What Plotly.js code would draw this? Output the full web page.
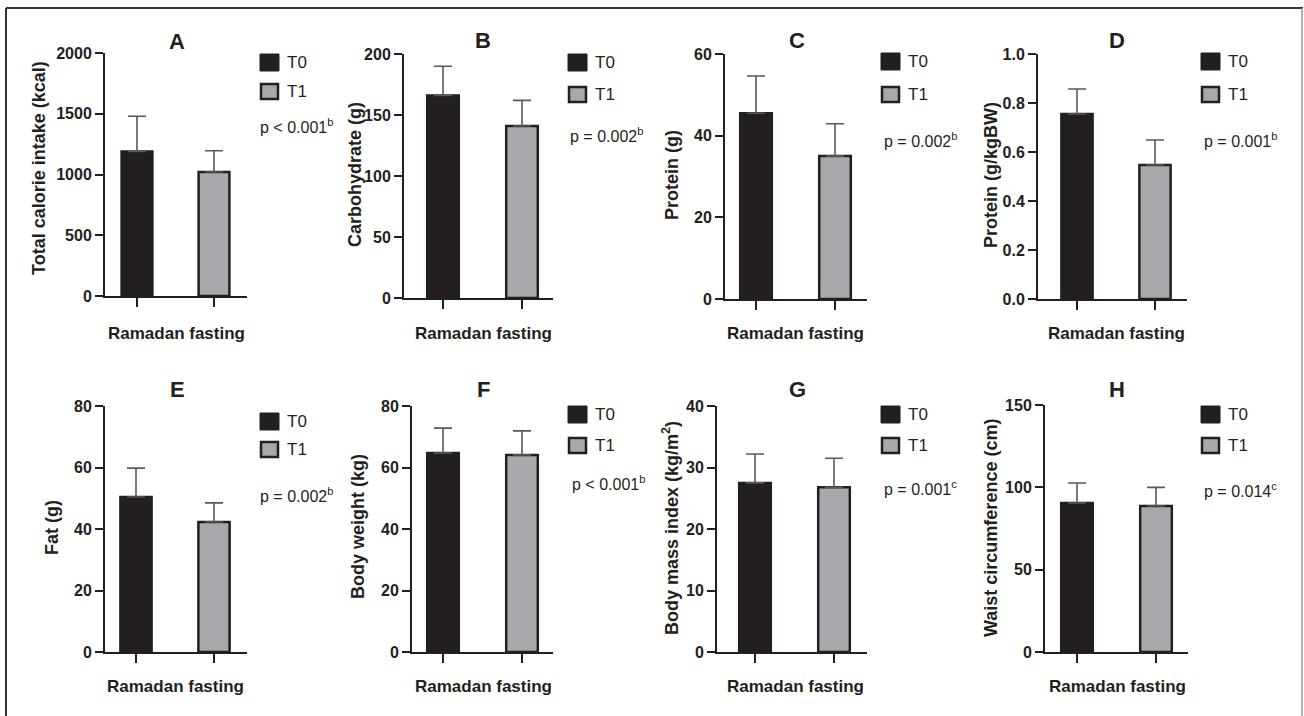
<!DOCTYPE html>
<html>
<head>
<meta charset="utf-8">
<script src="https://cdn.plot.ly/plotly-3.0.1.min.js"></script>
<style>html,body{margin:0;padding:0;background:#fff;}#chart{width:1304px;height:716px;}</style>
</head>
<body>
<div id="chart"></div>
<script>
// ---- data ----
const categories = ['T0', 'T1'];
const panelLetters = ['A', 'B', 'C', 'D', 'E', 'F', 'G', 'H'];
const yTitles = ['Total calorie intake (kcal)', 'Carbohydrate (g)', 'Protein (g)', 'Protein (g/kgBW)',
                 'Fat (g)', 'Body weight (kg)', 'Body mass index (kg/m<sup>2</sup>)', 'Waist circumference (cm)'];
const t0Means = [1190, 166, 45.5, 0.755, 50.4, 64.7, 27.5, 90.5];
const t0SD    = [290, 24, 9.1, 0.102, 9.4, 8.1, 4.7, 12.1];
const t1Means = [1020, 141, 35.0, 0.547, 42.3, 64.1, 26.8, 88.7];
const t1SD    = [175, 21, 7.9, 0.102, 6.2, 7.8, 4.7, 11.3];
const yTickVals = [
  [0, 500, 1000, 1500, 2000],
  [0, 50, 100, 150, 200],
  [0, 20, 40, 60],
  [0, 0.2, 0.4, 0.6, 0.8, 1.0],
  [0, 20, 40, 60, 80],
  [0, 20, 40, 60, 80],
  [0, 10, 20, 30, 40],
  [0, 50, 100, 150]
];
const yTickText = [
  ['0', '500', '1000', '1500', '2000'],
  ['0', '50', '100', '150', '200'],
  ['0', '20', '40', '60'],
  ['0.0', '0.2', '0.4', '0.6', '0.8', '1.0'],
  ['0', '20', '40', '60', '80'],
  ['0', '20', '40', '60', '80'],
  ['0', '10', '20', '30', '40'],
  ['0', '50', '100', '150']
];
const pTexts  = ['p < 0.001<sup>b</sup>', 'p = 0.002<sup>b</sup>', 'p = 0.002<sup>b</sup>', 'p = 0.001<sup>b</sup>',
                 'p = 0.002<sup>b</sup>', 'p < 0.001<sup>b</sup>', 'p = 0.001<sup>c</sup>', 'p = 0.014<sup>c</sup>'];
const xTitle = 'Ramadan fasting';

// ---- geometry (pixels) ----
const W = 1304, H = 716;
// [axisLeft, axisRight, tick0, tick1, top, bottom]
const geo = [
  [105, 247, 137, 214, 53, 296],
  [404, 553, 443, 522, 54, 298],
  [725, 867, 756, 835, 54, 299],
  [1038, 1187, 1077, 1155, 54, 299],
  [105, 247, 136, 214, 406, 652],
  [412, 553, 443, 522, 406, 652],
  [717, 867, 755, 834, 406, 652],
  [1045, 1188, 1077, 1156, 405, 652]
];
const yTitlePos = [[39,168],[355,175],[672,175],[991,175],[52,528],[358,527],[670,528],[991,528]];
const letterPos = [[177,42],[483,40],[797,40],[1117,40],[177,390],[483,390],[797,390],[1117,390]];
const xTitlePos = [[176,333],[483,333],[795,333],[1116,333],[175,686],[483,686],[795,686],[1117,686]];
const pPos = [[258,126],[568,135],[882,140],[1202,140],[258,495],[570,483],[882,488],[1202,490]];
// legend: [boxLeft, t0Top, t1Top]
const legPos = [[260,54,83],[568,54,86],[881,53,86],[1201,53,86],[260,413,441],[568,406,437],[881,406,437],[1201,406,437]];

const px = x => x / W;
const py = y => 1 - y / H;

const DARK = '#231f20';
const GRAY = '#a7a9ac';
const FONT = 'Liberation Sans, Arial, Helvetica, sans-serif';

const data = [];
const layout = {
  width: W, height: H, autosize: false,
  margin: {l: 0, r: 0, t: 0, b: 0},
  paper_bgcolor: '#ffffff', plot_bgcolor: 'rgba(0,0,0,0)',
  showlegend: false,
  font: {family: FONT, color: DARK},
  annotations: [],
  shapes: []
};

for (let i = 0; i < 8; i++) {
  const n = i === 0 ? '' : String(i + 1);
  const g = geo[i];
  const s = g[3] - g[2];
  const r0 = (g[0] - g[2]) / s;
  const r1 = 1 + (g[1] - g[3]) / s;
  const vals = yTickVals[i];
  data.push({
    type: 'bar',
    x: categories,
    y: [t0Means[i], t1Means[i]],
    width: 0.4,
    marker: {color: [DARK, GRAY], line: {color: DARK, width: 2.5}},
    error_y: {type: 'data', symmetric: false, array: [t0SD[i], t1SD[i]], arrayminus: [0, 0],
              color: '#58595b', thickness: 1.6, width: 9},
    xaxis: 'x' + n, yaxis: 'y' + n,
    hoverinfo: 'skip'
  });
  layout['xaxis' + n] = {
    domain: [px(g[0]), px(g[1])],
    anchor: 'y' + n,
    type: 'category',
    range: [r0, r1],
    showline: true, linecolor: DARK, linewidth: 2,
    ticks: 'outside', ticklen: 9, tickwidth: 2, tickcolor: DARK,
    showticklabels: false, showgrid: false, zeroline: false, fixedrange: true
  };
  layout['yaxis' + n] = {
    domain: [py(g[5]), py(g[4])],
    anchor: 'x' + n,
    range: [0, vals[vals.length - 1]],
    tickmode: 'array',
    tickvals: vals,
    ticktext: yTickText[i].map(t => '<b>' + t + '</b>'),
    showline: true, linecolor: DARK, linewidth: 2,
    ticks: 'outside', ticklen: 8, tickwidth: 2, tickcolor: DARK,
    tickfont: {family: FONT, size: 16, color: DARK},
    showgrid: false, zeroline: false, fixedrange: true
  };
  // y title
  layout.annotations.push({
    xref: 'paper', yref: 'paper', x: px(yTitlePos[i][0]), y: py(yTitlePos[i][1]),
    xanchor: 'center', yanchor: 'middle', textangle: -90, showarrow: false,
    text: '<b>' + yTitles[i] + '</b>', font: {family: FONT, size: 18, color: DARK}
  });
  // panel letter
  layout.annotations.push({
    xref: 'paper', yref: 'paper', x: px(letterPos[i][0]), y: py(letterPos[i][1]),
    xanchor: 'center', yanchor: 'middle', showarrow: false,
    text: '<b>' + panelLetters[i] + '</b>', font: {family: FONT, size: 22, color: DARK}
  });
  // x title
  layout.annotations.push({
    xref: 'paper', yref: 'paper', x: px(xTitlePos[i][0]), y: py(xTitlePos[i][1]),
    xanchor: 'center', yanchor: 'middle', showarrow: false,
    text: '<b>' + xTitle + '</b>', font: {family: FONT, size: 17, color: DARK}
  });
  // p value
  layout.annotations.push({
    xref: 'paper', yref: 'paper', x: px(pPos[i][0]), y: py(pPos[i][1]),
    xanchor: 'left', yanchor: 'middle', showarrow: false,
    text: pTexts[i], font: {family: FONT, size: 16, color: DARK}
  });
  // legend boxes + labels
  const L = legPos[i];
  const bw = 19, bh = 17;
  layout.shapes.push({
    type: 'rect', xref: 'paper', yref: 'paper',
    x0: px(L[0]), x1: px(L[0] + bw), y0: py(L[1] + bh), y1: py(L[1]),
    fillcolor: DARK, line: {color: DARK, width: 1}
  });
  layout.shapes.push({
    type: 'rect', xref: 'paper', yref: 'paper',
    x0: px(L[0] + 1), x1: px(L[0] + bw - 1), y0: py(L[2] + bh - 1), y1: py(L[2] + 1),
    fillcolor: GRAY, line: {color: DARK, width: 2.5}
  });
  layout.annotations.push({
    xref: 'paper', yref: 'paper', x: px(L[0] + bw + 6), y: py(L[1] + bh / 2),
    xanchor: 'left', yanchor: 'middle', showarrow: false,
    text: categories[0], font: {family: FONT, size: 17, color: DARK}
  });
  layout.annotations.push({
    xref: 'paper', yref: 'paper', x: px(L[0] + bw + 6), y: py(L[2] + bh / 2),
    xanchor: 'left', yanchor: 'middle', showarrow: false,
    text: categories[1], font: {family: FONT, size: 17, color: DARK}
  });
}

// outer frame
layout.shapes.push({type: 'line', xref: 'paper', yref: 'paper', x0: px(6), x1: px(1303), y0: py(8), y1: py(8), line: {color: '#333333', width: 2}});
layout.shapes.push({type: 'line', xref: 'paper', yref: 'paper', x0: px(6), x1: px(6), y0: py(8), y1: py(716), line: {color: '#333333', width: 2}});
layout.shapes.push({type: 'line', xref: 'paper', yref: 'paper', x0: px(1302), x1: px(1302), y0: py(8), y1: py(716), line: {color: '#999999', width: 1.5}});

Plotly.newPlot('chart', data, layout, {displayModeBar: false, staticPlot: true});
</script>
</body>
</html>
